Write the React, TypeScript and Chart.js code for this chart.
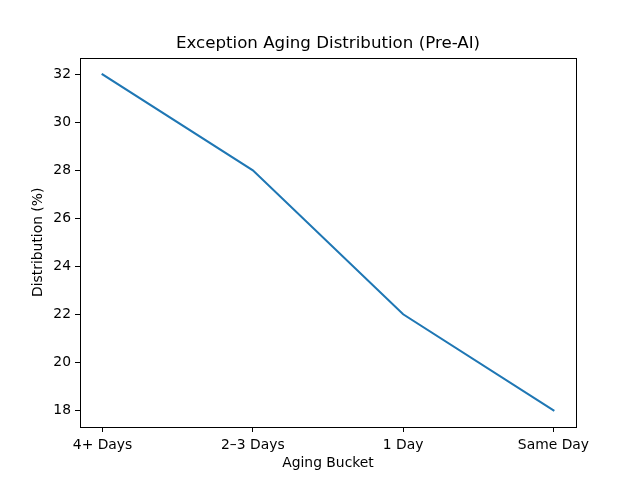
import React, { useEffect, useRef } from "react";
import { Chart, registerables } from "chart.js";

Chart.register(...registerables);

const categories = ["4+ Days", "2–3 Days", "1 Day", "Same Day"];
const distribution = [32, 28, 22, 18];
const yTicks = [18, 20, 22, 24, 26, 28, 30, 32];
const titleText = "Exception Aging Distribution (Pre-AI)";

const FONT = "'DejaVu Sans', sans-serif";
const SMALL = 13.89;

const boxPlugin = {
  id: "box",
  afterDraw(chart: any) {
    const { ctx, chartArea } = chart;
    ctx.save();
    ctx.strokeStyle = "#000";
    ctx.lineWidth = 1;
    ctx.strokeRect(
      Math.round(chartArea.left) + 0.5,
      Math.round(chartArea.top) + 0.5,
      Math.round(chartArea.right - chartArea.left),
      Math.round(chartArea.bottom - chartArea.top)
    );
    ctx.fillStyle = "#000";
    ctx.font = `16.67px ${FONT}`;
    ctx.textAlign = "center";
    ctx.textBaseline = "middle";
    ctx.fillText(titleText, (chartArea.left + chartArea.right) / 2, 43.5);
    ctx.restore();
  },
};

export default function App() {
  const ref = useRef<HTMLCanvasElement>(null);
  useEffect(() => {
    document.body.style.margin = "0";
    const chart = new Chart(ref.current!, {
      type: "line",
      data: {
        datasets: [
          {
            data: distribution.map((v, i) => ({ x: i, y: v })),
            borderColor: "#1f77b4",
            borderWidth: 2.08,
            pointRadius: 0,
            fill: false,
            tension: 0,
            borderCapStyle: "square",
          },
        ],
      },
      options: {
        animation: false,
        responsive: false,
        devicePixelRatio: 1,
        layout: { padding: { left: 0, right: 64, top: 57.6, bottom: 0 } },
        plugins: {
          legend: { display: false },
          tooltip: { enabled: false },
          title: { display: false },
        },
        scales: {
          x: {
            type: "linear",
            min: -0.15,
            max: 3.15,
            afterBuildTicks: (s: any) => {
              s.ticks = categories.map((_, i) => ({ value: i }));
            },
            afterFit: (s: any) => {
              s.height = 53;
            },
            grid: {
              drawOnChartArea: false,
              drawTicks: true,
              tickLength: 5,
              tickColor: "#000",
            },
            border: { display: false },
            ticks: {
              color: "#000",
              font: { family: FONT, size: SMALL },
              padding: 5,
              maxRotation: 0,
              autoSkip: false,
              callback: (v: any) => categories[v] ?? "",
            },
            title: {
              display: true,
              text: "Aging Bucket",
              color: "#000",
              font: { family: FONT, size: SMALL },
              padding: { top: 0, bottom: 8 },
            },
          },
          y: {
            type: "linear",
            min: 17.3,
            max: 32.7,
            afterBuildTicks: (s: any) => {
              s.ticks = yTicks.map((v) => ({ value: v }));
            },
            afterFit: (s: any) => {
              s.width = 80;
            },
            grid: {
              drawOnChartArea: false,
              drawTicks: true,
              tickLength: 5,
              tickColor: "#000",
            },
            border: { display: false },
            ticks: {
              color: "#000",
              font: { family: FONT, size: SMALL },
              padding: 4,
              callback: (v: any) => String(v),
            },
            title: {
              display: true,
              text: "Distribution (%)",
              color: "#000",
              font: { family: FONT, size: SMALL },
              padding: { top: 30.5, bottom: 0 },
            },
          },
        },
      },
      plugins: [boxPlugin],
    } as any);
    return () => chart.destroy();
  }, []);
  return (
    <div style={{ position: "fixed", left: 0, top: 0, width: 640, height: 480, background: "#fff" }}>
      <canvas ref={ref} width={640} height={480} style={{ width: 640, height: 480 }} />
    </div>
  );
}
